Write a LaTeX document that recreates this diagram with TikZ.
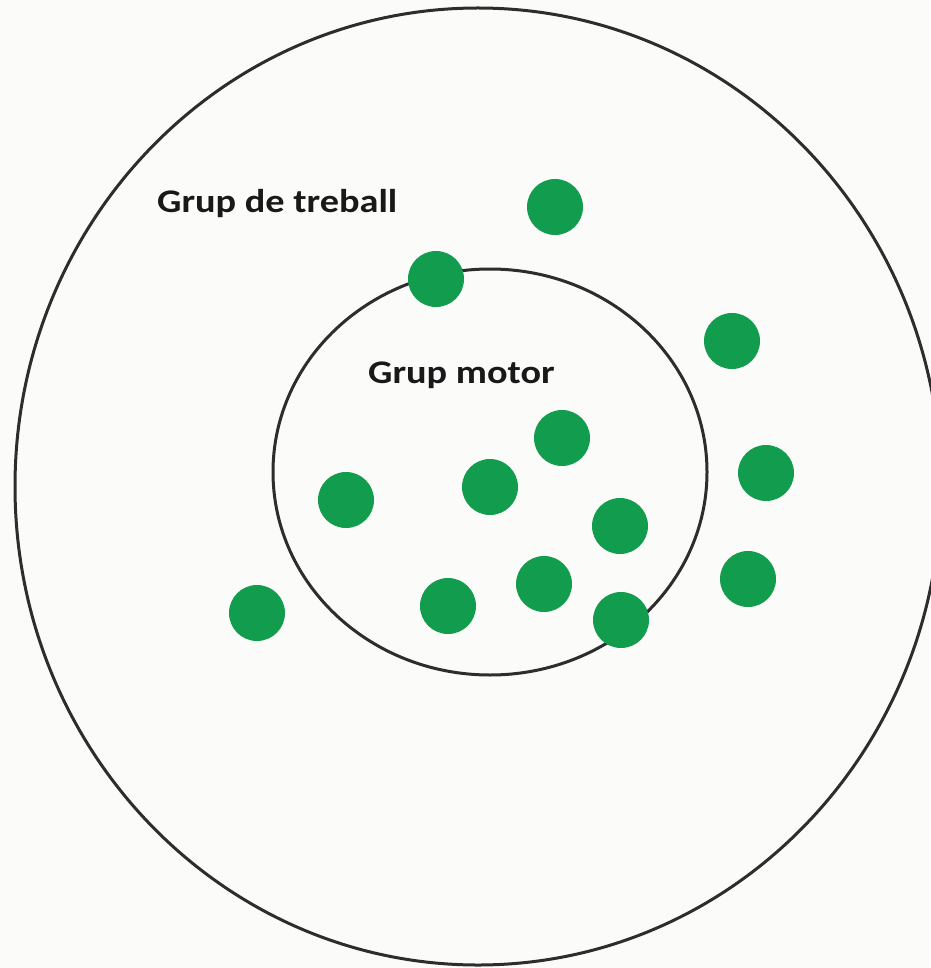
\documentclass[tikz,border=0pt]{standalone}
\usepackage{fontspec}
\setmainfont{Carlito}[FakeStretch=1.16]
\definecolor{paper}{RGB}{251,251,249}
\definecolor{dotgreen}{RGB}{18,156,78}
\definecolor{ink}{RGB}{45,45,45}
\begin{document}
\begin{tikzpicture}[x=1pt,y=-1pt,
  ring/.style={draw=ink,line width=3pt},
  member/.style={circle,fill=dotgreen,draw=none,inner sep=0pt,minimum size=56pt},
  label/.style={anchor=base west,inner sep=0pt,font=\bfseries\fontsize{33}{40}\selectfont,text=black!90}]
\fill[paper] (0,0) rectangle (930,968);
\useasboundingbox (0,0) rectangle (930,968);
% outer and inner groups
\draw[ring] (478,486.5) ellipse [x radius=463, y radius=478.5];
\draw[ring] (490,472) ellipse [x radius=217, y radius=203];
% labels
\node[label] (treball) at (157,213) {Grup de treball};
\node[label] (motor) at (368,383) {Grup motor};
% members
\node[member] (d1) at (555,207) {};
\node[member] (d2) at (436,279) {};
\node[member] (d3) at (732,341) {};
\node[member] (d4) at (562,438) {};
\node[member] (d5) at (490,487) {};
\node[member] (d6) at (346,500) {};
\node[member] (d7) at (766,473) {};
\node[member] (d8) at (620,526) {};
\node[member] (d9) at (257,613) {};
\node[member] (d10) at (448,606) {};
\node[member] (d11) at (544,584) {};
\node[member] (d12) at (621,620) {};
\node[member] (d13) at (748,579) {};
\end{tikzpicture}
\end{document}
